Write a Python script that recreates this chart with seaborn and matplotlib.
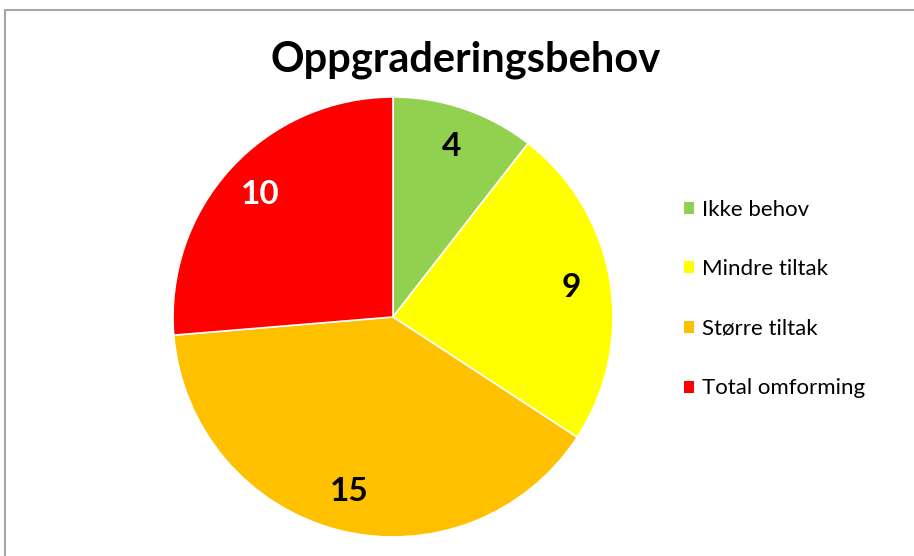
import matplotlib.pyplot as plt
import seaborn as sns
from matplotlib.patches import Patch, Rectangle

# data
categories = ["Ikke behov", "Mindre tiltak", "Større tiltak", "Total omforming"]
counts = [4, 9, 15, 10]
colors = ["#92D050", "#FFFF00", "#FFC000", "#FF0000"]
label_colors = ["black", "black", "black", "white"]
title = "Oppgraderingsbehov"

sns.set_theme(style="white")
plt.rcParams['font.family'] = ['Lato', 'DejaVu Sans']
plt.rcParams['text.color'] = 'black'

fig = plt.figure(figsize=(9.14, 5.56), dpi=100)
ax = fig.add_axes([0.1893, 0.0342, 0.4814, 0.7914])

wedges, texts, autotexts = ax.pie(
    counts, colors=colors, startangle=90, counterclock=False,
    autopct=lambda p: "%d" % round(p * sum(counts) / 100),
    pctdistance=0.82, radius=1.0,
    wedgeprops=dict(edgecolor="white", linewidth=1.2),
    textprops=dict(fontsize=24, fontweight="bold", color="black"))
for t, c in zip(autotexts, label_colors):
    t.set_color(c)
ax.set_xlim(-1, 1)
ax.set_ylim(-1, 1)
ax.set_aspect("equal")

fig.text(0.509, 0.892, title, ha="center", va="center", fontsize=30,
         fontweight="bold", color="black")

handles = [Patch(facecolor=c, edgecolor="none") for c in colors]
leg = fig.legend(handles, categories, loc="center left", bbox_to_anchor=(0.726, 0.462),
                 frameon=False, fontsize=16, handlelength=0.45, handleheight=0.45,
                 handletextpad=0.4, labelspacing=1.78)
for t in leg.get_texts():
    t.set_color("black")

# frame of the chart area
fig.patches.append(Rectangle((5 / 914, -0.1), 1.1, 1 - 10 / 556 + 0.1,
                             transform=fig.transFigure, fill=False,
                             edgecolor="#a6a6a6", linewidth=1.5))

fig.savefig("out.png", dpi=100)
